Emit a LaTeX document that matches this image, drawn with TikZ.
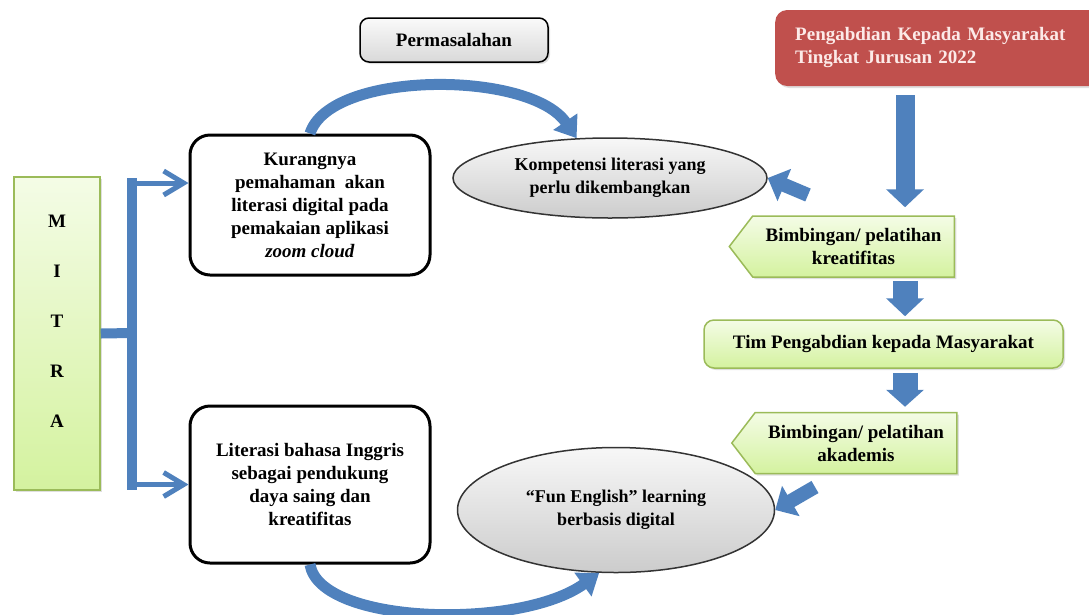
\documentclass[tikz,border=0pt]{standalone}
\usepackage{fontspec}
\setmainfont{Liberation Serif}
\usetikzlibrary{arrows.meta, positioning, calc}
\usetikzlibrary{shapes.geometric, shapes.symbols}
\usetikzlibrary{shadows}
\definecolor{arrowblue}{HTML}{4F81BD}
\definecolor{greenedge}{HTML}{9BBB59}
\definecolor{greentop}{HTML}{F4FCE6}
\definecolor{greenbot}{HTML}{D4F29F}
\definecolor{redbox}{HTML}{C0504D}
\definecolor{redtext}{HTML}{FCEAE8}

\begin{document}
\begin{tikzpicture}[x=1pt, y=-1pt,
    every node/.style={font=\bfseries\fontsize{19}{23}\selectfont,
        align=center, inner sep=0pt},
    softshadow/.style={drop shadow={opacity=0.25, shadow xshift=2pt,
        shadow yshift=-2pt}},
    greenbox/.style={draw=greenedge, line width=1.5pt, top color=greentop,
        bottom color=greenbot, softshadow},
    problembox/.style={draw=black, line width=3pt, rounded corners=20pt,
        fill=white, minimum width=240pt},
    oval/.style={ellipse, draw=black!80, line width=1.5pt, top color=gray!6,
        bottom color=gray!40, font=\bfseries\fontsize{18}{23}\selectfont},
    guide/.style={shape=signal, signal to=west, signal pointer angle=105,
        greenbox, minimum width=225pt, minimum height=61pt},
    blockarrow/.style args={#1/#2/#3}{arrowblue, line width=#1,
        -{Triangle[width=#2, length=#3]}},
    curvearrow/.style={arrowblue, line width=11pt,
        -{Triangle[width=28pt, length=20pt]}},
    stem/.style={arrowblue, line width=10pt},
    branch/.style={arrowblue, line width=5pt,
        -{Straight Barb[length=20pt, width=24pt]}}]

    \useasboundingbox (0,0) rectangle (1089,614);

    % mitra and the two problems
    \node[greenbox, minimum width=86pt, minimum height=313pt,
        font=\bfseries\fontsize{19}{50}\selectfont] (mitra) at (57,333.5)
        {M\\I\\T\\R\\A\\[-40pt]\strut};
    \node[problembox, minimum height=140pt] (kurang) at (310,205)
        {Kurangnya\\pemahaman~~akan\\literasi digital pada\\pemakaian aplikasi\\\textit{zoom cloud}};
    \node[problembox, minimum height=157pt] (literasi) at (310,484.5)
        {Literasi bahasa Inggris\\sebagai pendukung\\daya saing dan\\kreatifitas};

    \node[draw, line width=1.5pt, rounded corners=9pt, top color=gray!4,
        bottom color=gray!30, minimum width=188pt, minimum height=44pt,
        softshadow] (masalah) at (454,40) {Permasalahan};

    \node[oval, minimum width=314pt, minimum height=80pt] (komp) at (610,178)
        {Kompetensi literasi yang\\perlu dikembangkan};
    \node[oval, minimum width=317pt, minimum height=125pt] (fun) at (616,510)
        {“Fun English” learning\\berbasis digital};

    % right column
    \node[fill=redbox, rounded corners=12pt, text=redtext, align=left,
        text width=290pt, inner xsep=20pt, minimum height=76pt, anchor=west,
        softshadow] (pkm) at (775,48)
        {Pengabdian Kepada Masyarakat\\Tingkat Jurusan 2022};
    \node[guide] (bim1) at (853.5,246.5) {Bimbingan/ pelatihan\\kreatifitas};
    \node[greenbox, rounded corners=10pt, minimum width=359pt,
        minimum height=48pt] (tim) at (883.5,344)
        {Tim Pengabdian kepada Masyarakat};
    \node[guide] (bim2) at (856,443) {Bimbingan/ pelatihan\\akademis};

    \coordinate (spine) at (905,0);
    \coordinate (tailA) at (808,195);
    \coordinate (tailB) at (815,487);
    \coordinate (fork) at (132,333);
    \coordinate (upper) at ($(kurang.west)+(0,-22)$);

    % bracket from mitra
    \draw[stem] (mitra.east) -- (fork);
    \draw[stem, line cap=rect] (fork |- upper) -- (fork |- literasi.west);
    \draw[branch] (fork |- upper) -- (upper);
    \draw[branch] (fork |- literasi.west) -- (literasi.west);

    % curved arrows
    \draw[curvearrow] (kurang.north) .. controls (330,70) and (530,70) .. (komp.130);
    \draw[curvearrow] (literasi.south) .. controls (320,625) and (520,630) .. (fun.255);

    % block arrows
    \draw[blockarrow=19pt/37pt/18pt, shorten <=9pt, shorten >=8pt]
        (pkm.south -| spine) -- (bim1.north -| spine);
    \draw[blockarrow=25pt/37pt/18pt, shorten <=3pt, shorten >=3pt]
        (bim1.south -| spine) -- (tim.north -| spine);
    \draw[blockarrow=25pt/37pt/17pt, shorten <=4pt, shorten >=5pt]
        (tim.south -| spine) -- (bim2.north -| spine);
    \draw[blockarrow=14pt/34pt/18pt] (tailA) -- (komp.east);
    \draw[blockarrow=14pt/34pt/18pt] (tailB) -- (fun.east);
\end{tikzpicture}
\end{document}
